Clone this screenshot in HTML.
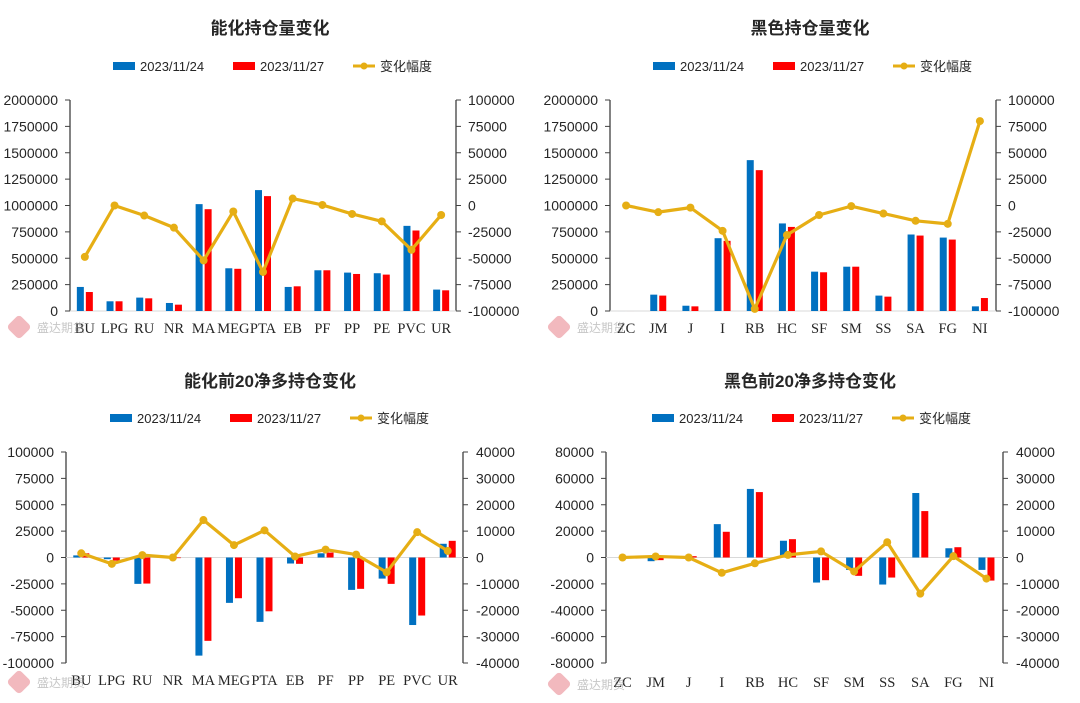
<!DOCTYPE html>
<html><head><meta charset="utf-8">
<style>
html,body{margin:0;padding:0;background:#fff;}
svg{display:block;}
.t{font-family:"Liberation Sans","Noto Sans CJK SC",sans-serif;fill:#262626;}
.cat{font-family:"Liberation Serif","Noto Serif CJK SC",serif;fill:#262626;font-size:14.5px;}
</style></head>
<body>
<svg id="svg" width="1080" height="703" viewBox="0 0 1080 703" xmlns="http://www.w3.org/2000/svg"></svg>
<script>
const catsEnergy = ["BU","LPG","RU","NR","MA","MEG","PTA","EB","PF","PP","PE","PVC","UR"];
const catsBlack = ["ZC","JM","J","I","RB","HC","SF","SM","SS","SA","FG","NI"];
const oi1Prev = [228000,92000,127000,76000,1013000,405000,1146000,228000,386000,364000,358000,807000,203000];
const oi1Curr = [180000,92000,120000,60000,965000,400000,1089000,234000,386000,351000,345000,763000,196000];
const oi1Chg = [-48700,0,-9500,-21000,-52000,-5700,-63000,6600,500,-8000,-15000,-42000,-9000];
const oi2Prev = [0,155000,50000,690000,1430000,830000,373000,420000,146000,725000,696000,44000];
const oi2Curr = [0,146000,44000,665000,1335000,797000,367000,420000,136000,715000,677000,123000];
const oi2Chg = [0,-6300,-2000,-24000,-98000,-28000,-9000,-600,-7600,-14500,-17400,80000];
const net1Prev = [2000,-1600,-25000,0,-93000,-43000,-61000,-5700,4000,-30700,-20000,-64000,13000];
const net1Curr = [4000,-3000,-24700,-600,-79000,-38600,-51000,-6000,4700,-29700,-25000,-55000,15800];
const net1Chg = [1600,-2400,900,0,14200,4700,10300,400,3000,1100,-5600,9600,2500];
const net2Prev = [0,-2800,0,25300,52000,12700,-19000,-9400,-20500,48900,7000,-9400];
const net2Curr = [0,-2000,1000,19500,49600,13900,-17200,-13900,-15200,35200,7800,-17500];
const net2Chg = [0,400,0,-5800,-2200,1000,2300,-5300,5800,-13700,500,-8000];
const ticks1L = [0,250000,500000,750000,1000000,1250000,1500000,1750000,2000000];
const ticks1R = [-100000,-75000,-50000,-25000,0,25000,50000,75000,100000];
const ticks3L = [-100000,-75000,-50000,-25000,0,25000,50000,75000,100000];
const ticks3R = [-40000,-30000,-20000,-10000,0,10000,20000,30000,40000];
const ticks4L = [-80000,-60000,-40000,-20000,0,20000,40000,60000,80000];

const NS="http://www.w3.org/2000/svg";
const svg=document.getElementById('svg');
function mk(tag,attrs,parent){const e=document.createElementNS(NS,tag);for(const k in attrs)e.setAttribute(k,attrs[k]);(parent||svg).appendChild(e);return e;}

function drawChart(o){
  const g=mk('g',{});
  
  
  const ly=v=>o.bot-(v-o.lmin)/(o.lmax-o.lmin)*(o.bot-o.top);
  const ry=v=>o.bot-(v-o.rmin)/(o.rmax-o.rmin)*(o.bot-o.top);
  const n=o.cats.length, w=(o.x1-o.x0)/n;
  const cx=i=>o.x0+w*(i+0.5);
  const t=mk('text',{x:o.tx,y:o.ty,'text-anchor':'middle','font-size':17,'font-weight':'bold',class:'t'},g);
  t.textContent=o.title;
  
  
  const lg=mk('g',{},g);
  
  
  const items=[["#0070C0","2023/11/24"],["#FF0000","2023/11/27"],["line","变化幅度"]];
  items.forEach((it,k)=>{
    const lx=o.lgx+k*o.lgStep;
    if(it[0]==='line'){mk('line',{x1:lx,x2:lx+22,y1:o.lgy,y2:o.lgy,stroke:'#E6AE14','stroke-width':3},lg);mk('circle',{cx:lx+11,cy:o.lgy,r:3.5,fill:'#E6AE14'},lg);}
    else mk('rect',{x:lx,y:o.lgy-4,width:22,height:8,fill:it[0]},lg);
    const tt=mk('text',{x:lx+27,y:o.lgy+5,'font-size':13,class:'t'},lg);tt.textContent=it[1];
    
    
  });
  mk('line',{x1:o.x0,x2:o.x0,y1:o.top,y2:o.bot,stroke:'#404040','stroke-width':1.3},g);
  mk('line',{x1:o.x1,x2:o.x1,y1:o.top,y2:o.bot,stroke:'#404040','stroke-width':1.3},g);
  o.ticksL.forEach(v=>{const y=ly(v);mk('line',{x1:o.x0-5,x2:o.x0,y1:y,y2:y,stroke:'#404040'},g);
    const tx=mk('text',{x:o.x0-12,y:y+5,'text-anchor':'end','font-size':14,class:'t'},g);tx.textContent=v;
    
    });
  o.ticksR.forEach(v=>{const y=ry(v);mk('line',{x1:o.x1,x2:o.x1+5,y1:y,y2:y,stroke:'#404040'},g);
    const tx=mk('text',{x:o.x1+o.rlx,y:y+5,'text-anchor':'start','font-size':14,class:'t'},g);tx.textContent=v;
    
    });
  const zy=ly(0);
  mk('line',{x1:o.x0,x2:o.x1,y1:zy,y2:zy,stroke:'#D9D9D9','stroke-width':1},g);
  o.cats.forEach((c,i)=>{
    [[o.a,'#0070C0',-8],[o.b,'#FF0000',1]].forEach(s=>{
      const v=s[0][i];const y=ly(v);
      const r=mk('rect',{x:cx(i)+s[2],y:Math.min(y,zy),width:7,height:Math.max(Math.abs(zy-y),0.01),fill:s[1]},g);
      
      
    });
    const ct=mk('text',{x:cx(i),y:o.caty,'text-anchor':'middle',class:'cat'},g);ct.textContent=c;
    
    
  });
  const pts=o.chg.map((v,i)=>cx(i)+','+ry(v)).join(' ');
  const pl=mk('polyline',{points:pts,fill:'none',stroke:'#E6AE14','stroke-width':3.2,'stroke-linejoin':'round'},g);
  
  
  o.chg.forEach((v,i)=>{const p=mk('circle',{cx:cx(i),cy:ry(v),r:4,fill:'#E6AE14'},g);
    
    });
  const wm=mk('g',{opacity:0.55},g);
  
  
  mk('rect',{x:o.wx+5,y:o.wy-12,width:18,height:18,rx:4,fill:'#E8808A',transform:`rotate(45 ${o.wx+14} ${o.wy-3})`},wm);
  const wt=mk('text',{x:o.wx+32,y:o.wy+2,'font-size':12,fill:'#999','font-family':'Noto Sans CJK SC, sans-serif'},wm);wt.textContent='盛达期货';
}

drawChart({name:'energy-open-interest-chart',title:'能化持仓量变化',tx:270,ty:34,lgx:113,lgy:66,lgStep:120,
  x0:70,x1:456,top:100,bot:311,lmin:0,lmax:2000000,rmin:-100000,rmax:100000,ticksL:ticks1L,ticksR:ticks1R,rlx:12,
  cats:catsEnergy,a:oi1Prev,b:oi1Curr,chg:oi1Chg,caty:333,wx:5,wy:330});
drawChart({name:'black-open-interest-chart',title:'黑色持仓量变化',tx:810,ty:34,lgx:653,lgy:66,lgStep:120,
  x0:610,x1:996,top:100,bot:311,lmin:0,lmax:2000000,rmin:-100000,rmax:100000,ticksL:ticks1L,ticksR:ticks1R,rlx:12,
  cats:catsBlack,a:oi2Prev,b:oi2Curr,chg:oi2Chg,caty:333,wx:545,wy:330});
drawChart({name:'energy-net-long-chart',title:'能化前20净多持仓变化',tx:270,ty:387,lgx:110,lgy:418,lgStep:120,
  x0:66,x1:463,top:452,bot:663,lmin:-100000,lmax:100000,rmin:-40000,rmax:40000,ticksL:ticks3L,ticksR:ticks3R,rlx:13,
  cats:catsEnergy,a:net1Prev,b:net1Curr,chg:net1Chg,caty:685,wx:5,wy:685});
drawChart({name:'black-net-long-chart',title:'黑色前20净多持仓变化',tx:810,ty:387,lgx:652,lgy:418,lgStep:120,
  x0:606,x1:1003,top:452,bot:663,lmin:-80000,lmax:80000,rmin:-40000,rmax:40000,ticksL:ticks4L,ticksR:ticks3R,rlx:13,
  cats:catsBlack,a:net2Prev,b:net2Curr,chg:net2Chg,caty:687,wx:545,wy:687});
</script>
</body></html>
